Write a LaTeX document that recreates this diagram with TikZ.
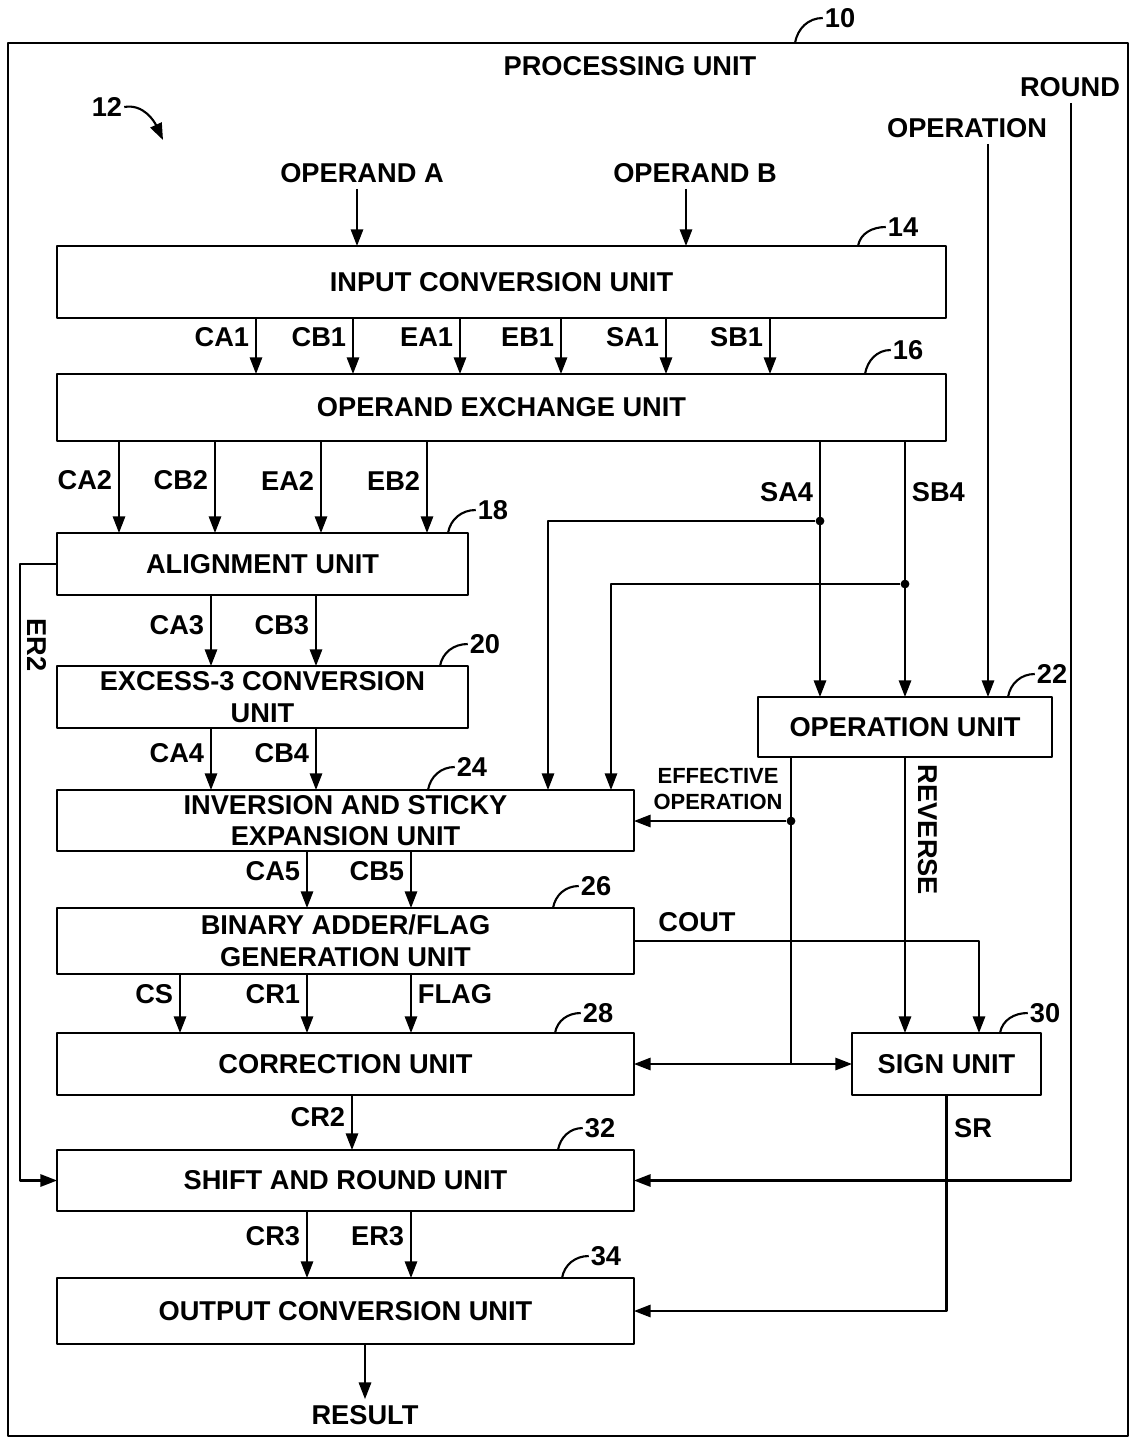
\documentclass[tikz,border=0pt]{standalone}
\usepackage{fontspec}
\setmainfont{Liberation Sans}
\usetikzlibrary{arrows.meta}

\tikzset{
  unitbox/.style={draw,line width=1.2pt,align=center,inner sep=0pt,outer sep=0pt},
  arr/.style={line width=1.2pt,-{Triangle[length=9.5pt,width=7pt]}},
  wire/.style={line width=1.2pt},
  refnum/.style={inner sep=1pt},
  dot/.style={circle,fill,inner sep=0pt,minimum size=5pt}
}

\begin{document}
\begin{tikzpicture}[x=0.02cm,y=-0.02cm,line join=round,
  font=\bfseries\fontsize{15.5}{18}\selectfont]
\useasboundingbox (0,0) rectangle (1130,1438);
% outer frame
\draw[wire] (8,43) rectangle (1128,1436);
\node at (630,66) {PROCESSING UNIT};
\coordinate (f10) at (795,43);
\node[refnum] (r10) at (840,18) {10};
\draw[wire] (f10) to[out=80,in=180] (r10.west);
\node[refnum] (r12) at (107,107) {12};
\coordinate (c12) at (163,140);
\draw[arr] (r12.east) to[out=10,in=115] (c12);

% inputs
\node (opa) at (362,173) {OPERAND A};
\node (opb) at (695,173) {OPERAND B};
\node (oper) at (967,128) {OPERATION};
\node (rnd) at (1070,87) {ROUND};

% units
\node[unitbox,minimum width=17.78cm,minimum height=1.44cm] (inp) at (501.5,282) {INPUT CONVERSION UNIT};
\node[unitbox,minimum width=17.78cm,minimum height=1.34cm] (exch) at (501.5,407.5) {OPERAND EXCHANGE UNIT};
\node[unitbox,minimum width=8.22cm,minimum height=1.24cm] (algn) at (262.5,564) {ALIGNMENT UNIT};
\node[unitbox,minimum width=8.22cm,minimum height=1.24cm] (exc3) at (262.5,697) {EXCESS-3 CONVERSION\\UNIT};
\node[unitbox,minimum width=11.54cm,minimum height=1.22cm] (inv) at (345.5,820.5) {INVERSION AND STICKY\\EXPANSION UNIT};
\node[unitbox,minimum width=11.54cm,minimum height=1.32cm] (badd) at (345.5,941) {BINARY ADDER/FLAG\\GENERATION UNIT};
\node[unitbox,minimum width=11.54cm,minimum height=1.24cm] (corr) at (345.5,1064) {CORRECTION UNIT};
\node[unitbox,minimum width=11.54cm,minimum height=1.22cm] (shft) at (345.5,1180.5) {SHIFT AND ROUND UNIT};
\node[unitbox,minimum width=11.54cm,minimum height=1.32cm] (outc) at (345.5,1311) {OUTPUT CONVERSION UNIT};
\node[unitbox,minimum width=5.88cm,minimum height=1.2cm] (opu) at (905,727) {OPERATION UNIT};
\node[unitbox,minimum width=3.78cm,minimum height=1.24cm] (sgn) at (946.5,1064) {SIGN UNIT};
\node (res) at (365,1415) {RESULT};

% reference numerals
\foreach \bx/\lx/\nx/\ny/\num in {inp/858/903/227/14, exch/865/908/350/16,
    algn/448/493/510/18, exc3/440/485/644/20, opu/1008/1052/674/22,
    inv/428/472/767/24, badd/553/596/886/26, corr/555/598/1013/28,
    sgn/1000/1045/1013/30, shft/558/600/1128/32, outc/562/606/1256/34}
{
  \node[refnum] (r\num) at (\nx,\ny) {\num};
  \draw[wire] (\bx.north -| \lx,0) to[out=80,in=180] (r\num.west);
}

% operands
\draw[arr] (opa.south -| 357,0) -- (inp.north -| 357,0);
\draw[arr] (opb.south -| 686,0) -- (inp.north -| 686,0);
\draw[arr] (oper.south -| 988,0) -- (opu.north -| 988,0);
\draw[arr] (rnd.south -| 1071,0) |- (shft.east);

% input conversion -> operand exchange
\foreach \x/\t in {256/CA1,353/CB1,460/EA1,561/EB1,666/SA1,770/SB1}
  \draw[arr] (inp.south -| \x,0) -- node[left,pos=.35] {\t} (exch.north -| \x,0);

% operand exchange -> alignment
\foreach \x/\t in {119/CA2,215/CB2,321/EA2,427/EB2}
  \draw[arr] (exch.south -| \x,0) -- node[left,pos=.43] {\t} (algn.north -| \x,0);

% signs
\draw[arr] (exch.south -| 820,0) -- node[left,pos=.2] {SA4} (opu.north -| 820,0);
\draw[arr] (exch.south -| 905,0) -- node[right,pos=.2] {SB4} (opu.north -| 905,0);
\node[dot] (sa4dot) at (820,521) {};
\node[dot] (sb4dot) at (905,584) {};
\draw[arr] (sa4dot) -| (inv.north -| 548,0);
\draw[arr] (sb4dot) -| (inv.north -| 611,0);

% exponent path
\draw[arr] (algn.west) -- ++(-37,0) |- (shft.west);
\node[rotate=-90] at (37,645) {ER2};

% coefficient path
\foreach \x/\t in {211/CA3,316/CB3}
  \draw[arr] (algn.south -| \x,0) -- node[left,pos=.42] {\t} (exc3.north -| \x,0);
\foreach \x/\t in {211/CA4,316/CB4}
  \draw[arr] (exc3.south -| \x,0) -- node[left,pos=.4] {\t} (inv.north -| \x,0);
\foreach \x/\t in {307/CA5,411/CB5}
  \draw[arr] (inv.south -| \x,0) -- node[left,pos=.35] {\t} (badd.north -| \x,0);
\foreach \x/\t in {180/CS,307/CR1}
  \draw[arr] (badd.south -| \x,0) -- node[left,pos=.34] {\t} (corr.north -| \x,0);
\draw[arr] (badd.south -| 411,0) -- node[right,pos=.34] {FLAG} (corr.north -| 411,0);
\draw[arr] (corr.south -| 352,0) -- node[left,pos=.4] {CR2} (shft.north -| 352,0);
\foreach \x/\t in {307/CR3,411/ER3}
  \draw[arr] (shft.south -| \x,0) -- node[left,pos=.37] {\t} (outc.north -| \x,0);
\draw[arr] (outc.south -| 365,0) -- (res.north -| 365,0);

% effective operation
\node[dot] (effdot) at (791,821) {};
\coordinate (tee) at (corr.east -| effdot);
\draw[wire] (opu.south -| effdot) -- (tee);
\draw[arr] (effdot) -- (inv.east |- effdot);
\draw[arr] (tee) -- (corr.east);
\draw[arr] (tee) -- (sgn.west);
\node[font=\bfseries\fontsize{12.5}{15}\selectfont,align=center] at (718,789) {EFFECTIVE\\OPERATION};

% carry out, reverse, sign result
\draw[arr] (badd.east) -| (sgn.north -| 979,0);
\node at (697,922) {COUT};
\draw[arr] (opu.south -| 905,0) -- (sgn.north -| 905,0);
\node[rotate=-90] at (928,830) {REVERSE};
\draw[arr] (sgn.south) |- (outc.east);
\node at (973,1128) {SR};
\end{tikzpicture}
\end{document}
